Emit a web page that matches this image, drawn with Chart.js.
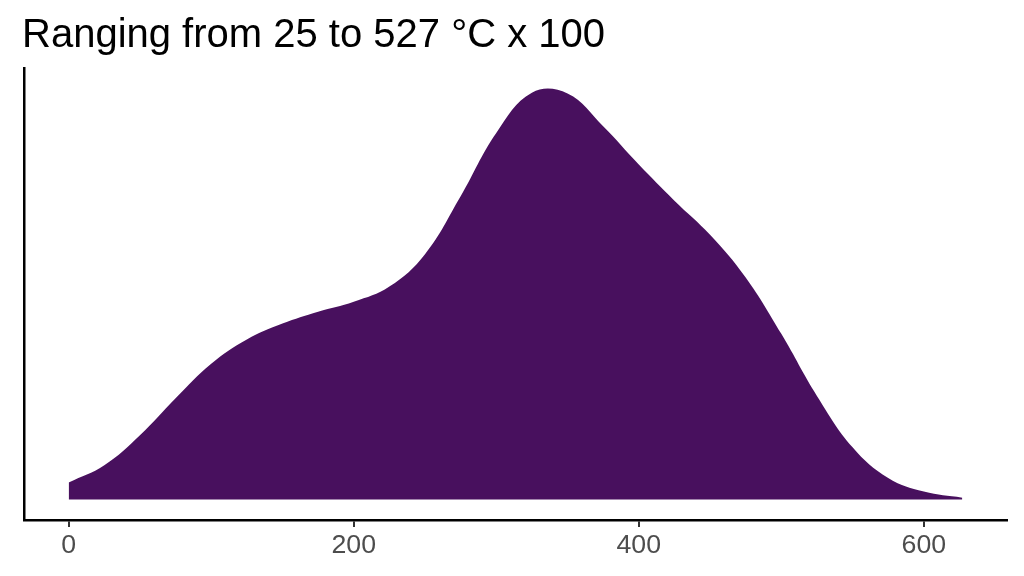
<!DOCTYPE html>
<html>
<head>
<meta charset="utf-8">
<title>Density</title>
<script src="https://cdn.jsdelivr.net/npm/chart.js@4.4.1/dist/chart.umd.min.js"></script>
<style>
  html, body { margin: 0; padding: 0; background: #ffffff; }
  #wrap { width: 1024px; height: 576px; position: relative; }
</style>
</head>
<body>
<div id="wrap"><canvas id="density-chart"></canvas></div>
<script>
// values (density scaled so the peak is 1)
const xValues = [0, 25, 50, 75, 100, 125, 150, 175, 200, 225, 250, 275, 300, 325,
                 350, 375, 400, 425, 450, 475, 500, 525, 550, 575, 600, 627];
const densityValues = [0.041, 0.083, 0.156, 0.246, 0.330, 0.389, 0.428, 0.457, 0.481, 0.518,
                       0.597, 0.738, 0.892, 0.990, 0.988, 0.908, 0.815, 0.727, 0.644, 0.540,
                       0.403, 0.252, 0.127, 0.052, 0.019, 0.004];
const xTicks = [0, 200, 400, 600];
const titleText = 'Ranging from 25 to 527 \u00B0C x 100';

document.addEventListener('DOMContentLoaded', function() {
    const ctx = document.getElementById('density-chart').getContext('2d');

    const points = xValues.map((x, i) => ({ x: x, y: densityValues[i] }));

    new Chart(ctx, {
        type: 'line',
        data: {
            datasets: [{
                data: points,
                fill: 'origin',
                backgroundColor: '#48105e',
                borderWidth: 0,
                pointRadius: 0,
                tension: 0.4
            }]
        },
        options: {
            responsive: true,
            maintainAspectRatio: false,
            animation: false,
            devicePixelRatio: 1,
            layout: {
                padding: { left: 22, right: 17, top: 0, bottom: 11 }
            },
            scales: {
                x: {
                    type: 'linear',
                    min: -31.35,
                    max: 658.35,
                    afterBuildTicks: function(scale) {
                        scale.ticks = xTicks.map(v => ({ value: v }));
                    },
                    ticks: {
                        color: '#4d4d4d',
                        font: { family: '"Liberation Sans", Arial, sans-serif', size: 26.7 },
                        padding: 3,
                        maxRotation: 0
                    },
                    grid: {
                        drawOnChartArea: false,
                        tickLength: 7,
                        color: '#333333',
                        lineWidth: 2
                    },
                    border: { color: '#000000', width: 2.5 }
                },
                y: {
                    min: -0.05,
                    max: 1.05,
                    ticks: { display: false },
                    grid: { display: false },
                    border: { color: '#000000', width: 2.5 },
                    afterFit: function(scale) { scale.width = 2; }
                }
            },
            plugins: {
                legend: { display: false },
                tooltip: { enabled: false },
                title: {
                    display: true,
                    text: titleText,
                    align: 'start',
                    color: '#000000',
                    font: { family: '"Liberation Sans", Arial, sans-serif', size: 40, weight: 'normal' },
                    padding: { top: 12, bottom: 8 }
                }
            }
        }
    });
});
</script>
</body>
</html>
